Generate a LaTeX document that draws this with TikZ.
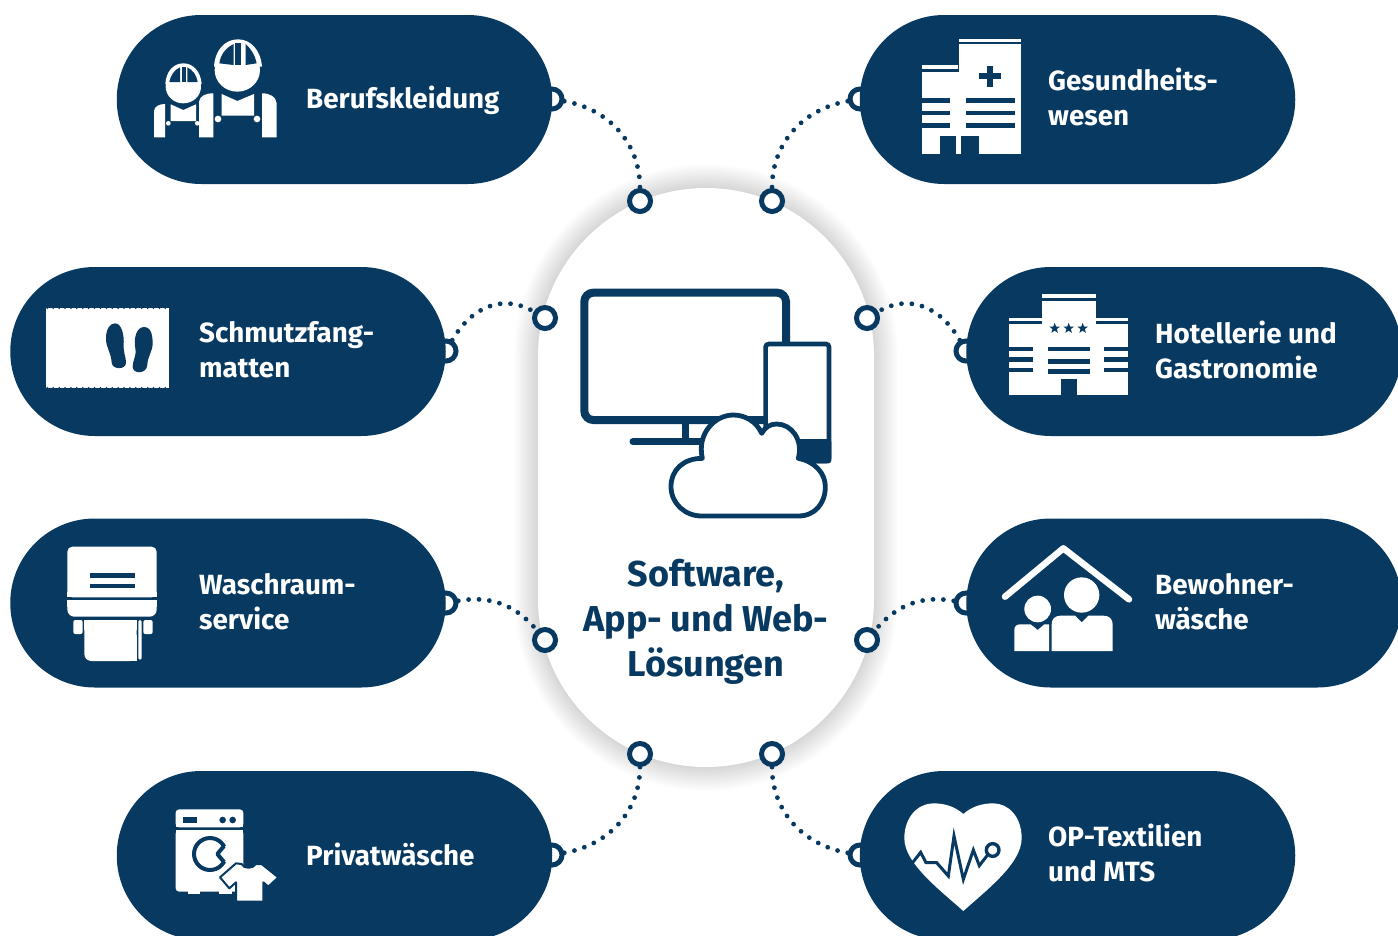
\documentclass[tikz,border=0pt]{standalone}
\usepackage{fontspec}
\setmainfont{Fira Sans}
\usepackage{xcolor}
\usetikzlibrary{shapes.geometric}
\definecolor{navy}{HTML}{083A61}

\begin{document}
\begin{tikzpicture}[
    x=1pt, y=-1pt,
    % --- Styles ---
    pill/.style={fill=navy, minimum width=435.5pt, minimum height=169pt, rounded corners=84.5pt, inner sep=0pt},
    hub/.style={fill=white, minimum width=336pt, minimum height=579pt, rounded corners=168pt, inner sep=0pt},
    pill label/.style={text=white, anchor=west, align=left, font=\bfseries\fontsize{27.8}{35}\selectfont, inner sep=0pt},
    hub label/.style={text=navy, align=center, font=\bfseries\fontsize{36}{45}\selectfont, inner sep=0pt},
    pill ring/.style={circle, draw=navy, fill=white, line width=5pt, minimum size=20pt, inner sep=0pt},
    hub ring/.style={circle, draw=navy, fill=white, line width=5pt, minimum size=21pt, inner sep=0pt},
    dot link/.style={draw=navy, line width=4.8pt, line cap=round, dash pattern=on 0pt off 10.4pt},
    zoomed/.style={x=0.33333pt, y=-0.33333pt},
    ink/.style={fill=white, draw=none},
    cut/.style={fill=navy, draw=none}
]
    \useasboundingbox (0,0) rectangle (1398,935);
    \clip (0,0) rectangle (1398,935);

    %% --- CENTRE ---
    % Soft edge of the centre shape
    \foreach \g in {1,...,20}
        \node[hub, fill=none, draw=black, opacity=0.006, line width=2.4*\g pt] (hubshade\g) at (706,477.5) {};
    \node[hub] (hub) at (706,477.5) {};

    %% --- RINGS ---
    \node[pill ring] (ringA) at (552,99) {};
    \node[pill ring] (ringB) at (860,99) {};
    \node[pill ring] (ringC) at (446,351) {};
    \node[pill ring] (ringD) at (966,351) {};
    \node[pill ring] (ringE) at (446,603) {};
    \node[pill ring] (ringF) at (966,603) {};
    \node[pill ring] (ringG) at (552,855) {};
    \node[pill ring] (ringH) at (860,855) {};

    \node[hub ring] (hubA) at (640,201) {};
    \node[hub ring] (hubB) at (772,201) {};
    \node[hub ring] (hubC) at (545,318) {};
    \node[hub ring] (hubD) at (867,318) {};
    \node[hub ring] (hubE) at (545,640) {};
    \node[hub ring] (hubF) at (867,640) {};
    \node[hub ring] (hubG) at (640,754) {};
    \node[hub ring] (hubH) at (772,754) {};

    %% --- DOTTED LINKS ---
    \draw[dot link] (ringA) to[out=-10, in=90, looseness=1] (hubA);
    \draw[dot link] (ringB) to[out=190, in=90, looseness=1] (hubB);
    \draw[dot link] (ringC) to[out=60, in=150, looseness=1.1] (hubC);
    \draw[dot link] (ringD) to[out=120, in=30, looseness=1.1] (hubD);
    \draw[dot link] (ringE) to[out=10, in=130, looseness=1] (hubE);
    \draw[dot link] (ringF) to[out=170, in=50, looseness=1] (hubF);
    \draw[dot link] (ringG) to[out=10, in=-90, looseness=1] (hubG);
    \draw[dot link] (ringH) to[out=170, in=-90, looseness=1] (hubH);

    %% --- PILLS ---
    \node[pill] (pillA) at (334.5,99.5) {};
    \node[pill] (pillB) at (1077.5,99.5) {};
    \node[pill] (pillC) at (228,351.5) {};
    \node[pill] (pillD) at (1184,351.5) {};
    \node[pill] (pillE) at (228,603) {};
    \node[pill] (pillF) at (1184,603) {};
    \node[pill] (pillG) at (334.5,855.5) {};
    \node[pill] (pillH) at (1077.5,855.5) {};

    %% --- TEXT ---
    \node[pill label] (textA) at (306,100.5) {Berufskleidung};
    \node[pill label] (textB) at (1048,96.5) {Gesundheits-\\wesen};
    \node[pill label] (textC) at (199,349.5) {Schmutzfang-\\matten};
    \node[pill label] (textD) at (1155,349.5) {Hotellerie und\\Gastronomie};
    \node[pill label] (textE) at (199,601.5) {Waschraum-\\service};
    \node[pill label] (textF) at (1155,601.5) {Bewohner-\\wäsche};
    \node[pill label] (textG) at (306,854) {Privatwäsche};
    \node[pill label] (textH) at (1048,852.5) {OP-Textilien\\und MTS};
    \node[hub label] (textHub) at (706,622) {Software,\\App- und Web-\\Lösungen};

    %% --- ICON: screen, tablet, cloud ---
    \begin{scope}[shift={(560,270)}, zoomed]
        \draw[navy, line width=8pt, rounded corners=9pt] (73,68) rectangle (678,450);
        \fill[navy] (367,455) rectangle (388,510);
        \draw[navy, line width=7pt, line cap=round] (219,515) -- (430,515);
        \draw[navy, fill=white, line width=4.6pt, rounded corners=3pt] (617,222) rectangle (807,573);
        \fill[navy, rounded corners=3pt] (700,507) -- (814,507) -- (814,580) -- (700,580) -- cycle;
        \draw[navy, fill=white, line width=4.8pt, line join=round]
            (427,565) .. controls (370,565) and (333,600) .. (333,650)
            .. controls (333,700) and (375,738) .. (425,738) -- (715,738)
            .. controls (765,738) and (796,700) .. (796,650)
            .. controls (796,610) and (765,575) .. (715,565)
            .. controls (730,510) and (695,462) .. (650,462)
            .. controls (630,462) and (615,472) .. (605,490)
            .. controls (590,455) and (555,435) .. (520,435)
            .. controls (465,435) and (410,490) .. (427,565) -- cycle;
    \end{scope}

    %% --- ICON: two workers ---
    \begin{scope}[shift={(130,20)}, zoomed]
        % Big one
        \fill[ink] (322,150) ellipse [x radius=68, y radius=65];
        \fill[ink] (252,140) .. controls (255,90) and (285,58) .. (324,58)
            .. controls (362,58) and (392,90) .. (396,140) -- cycle;
        \fill[cut] (268,130) .. controls (272,105) and (285,85) .. (311,72) -- (311,135) -- cycle;
        \fill[cut] (316,70) rectangle (332,135);
        \fill[cut] (347,72) .. controls (362,85) and (375,105) .. (380,130) -- (347,135) -- cycle;
        \fill[ink] (207,352) -- (207,245) .. controls (210,228) and (225,220) .. (250,220) -- (250,352) -- cycle;
        \fill[ink] (396,352) -- (396,220) .. controls (420,220) and (438,230) .. (440,250) -- (440,352) -- cycle;
        \fill[ink] (275,222) -- (322,243) -- (372,222) -- (372,287) -- (275,287) -- cycle;
        \fill[ink] (264,297) circle [radius=10];
        \fill[ink] (381,297) circle [radius=10];
        % Small one
        \fill[ink] (160,200) ellipse [x radius=53, y radius=50];
        \fill[ink] (106,192) .. controls (108,155) and (130,130) .. (160,130)
            .. controls (190,130) and (212,155) .. (215,192) -- cycle;
        \fill[cut] (118,186) .. controls (122,165) and (133,150) .. (150,142) -- (150,186) -- cycle;
        \fill[cut] (155,140) rectangle (167,186);
        \fill[cut] (172,142) .. controls (188,150) and (200,165) .. (203,186) -- (172,186) -- cycle;
        \fill[ink] (72,352) -- (72,272) .. controls (74,258) and (90,252) .. (105,252) -- (105,352) -- cycle;
        \fill[ink] (122,253) -- (160,270) -- (198,253) -- (198,303) -- (122,303) -- cycle;
        \fill[ink] (115,310) circle [radius=7];
        \fill[ink] (202,310) circle [radius=7];
    \end{scope}

    %% --- ICON: hospital ---
    \begin{scope}[shift={(900,25)}, zoomed]
        \fill[ink] (177,42) rectangle (363,52);
        \fill[ink] (66,120) rectangle (175,132);
        \fill[ink] (177,58) rectangle (363,388);
        \fill[ink] (66,140) rectangle (177,388);
        \fill[cut] (262,122) rectangle (280,186);
        \fill[cut] (238,145) rectangle (303,163);
        \foreach \y in {220,258,295} {
            \fill[cut] (66,\y) rectangle (150,\y+13);
            \fill[cut] (198,\y) rectangle (344,\y+13);
        }
        \fill[cut] (120,332) rectangle (168,388);
        \fill[cut] (183,332) rectangle (236,388);
    \end{scope}

    %% --- ICON: hotel ---
    \begin{scope}[shift={(990,280)}, zoomed]
        \fill[ink] (155,43) rectangle (317,53);
        \fill[ink] (58,114) rectangle (157,124);
        \fill[ink] (317,114) rectangle (414,124);
        \fill[ink] (155,62) rectangle (317,345);
        \fill[ink] (58,133) rectangle (414,345);
        \foreach \y in {200,232,264} {
            \fill[cut] (58,\y) rectangle (130,\y+13);
            \fill[cut] (342,\y) rectangle (414,\y+13);
        }
        \foreach \y in {200,238,268}
            \fill[cut] (173,\y) rectangle (300,\y+13);
        \fill[cut] (213,298) rectangle (260,345);
        \foreach \x/\n in {194/A,236/B,278/C}
            \node[star, star points=5, star point ratio=2.4, fill=navy, inner sep=0pt, minimum size=11pt] (hotelstar\n) at (\x,145) {};
    \end{scope}

    %% --- ICON: house and residents ---
    \begin{scope}[shift={(990,535)}, zoomed]
        \draw[white, line width=6.5pt, line cap=round, line join=round] (45,185) -- (220,40) -- (417,193);
        \fill[ink] (275,180) circle [radius=53];
        \fill[ink] (143,222) circle [radius=40];
        \fill[ink] (185,348) -- (185,268) .. controls (185,252) and (195,242) .. (212,242)
            -- (255,242) -- (275,262) -- (295,242) -- (340,242)
            .. controls (358,242) and (368,252) .. (368,268) -- (368,348) -- cycle;
        \fill[ink] (73,348) -- (73,285) .. controls (73,274) and (80,268) .. (90,268)
            -- (122,268) -- (143,285) -- (163,268) -- (177,268) -- (177,348) -- cycle;
    \end{scope}

    %% --- ICON: floor mat ---
    \begin{scope}[shift={(30,295)}, zoomed]
        \fill[ink] (48,40) rectangle (418,278);
        \draw[navy, line width=1.6pt, line cap=round, dash pattern=on 0pt off 5.9pt] (52,40) -- (418,40);
        \draw[navy, line width=1.6pt, line cap=round, dash pattern=on 0pt off 5.9pt] (52,278) -- (418,278);
        % Soles
        \fill[cut] (255,85) .. controls (238,85) and (228,105) .. (228,130)
            .. controls (228,160) and (243,170) .. (245,203)
            .. controls (247,225) and (288,225) .. (288,203)
            .. controls (288,185) and (280,175) .. (281,150)
            .. controls (283,120) and (275,85) .. (255,85) -- cycle;
        \fill[cut] (342,96) .. controls (365,96) and (368,125) .. (368,145)
            .. controls (368,170) and (352,185) .. (352,210)
            .. controls (350,238) and (308,238) .. (308,215)
            .. controls (308,195) and (320,185) .. (316,160)
            .. controls (310,130) and (320,96) .. (342,96) -- cycle;
    \end{scope}

    %% --- ICON: towel dispenser ---
    \begin{scope}[shift={(50,535)}, zoomed]
        \fill[ink, rounded corners=5pt] (52,35) -- (320,35) -- (320,187) -- (52,187) -- cycle;
        \fill[ink] (52,187) rectangle (320,170);
        \fill[cut] (120,115) rectangle (254,128);
        \fill[cut] (120,148) rectangle (254,160);
        \fill[ink, rounded corners=7pt] (52,195) -- (320,195) -- (320,245) -- (52,245) -- cycle;
        \fill[ink] (52,195) rectangle (320,215);
        \fill[ink, rounded corners=2pt] (70,255) -- (98,255) -- (98,297) -- (70,297) -- cycle;
        \fill[ink, rounded corners=2pt] (280,255) -- (308,255) -- (308,297) -- (280,297) -- cycle;
        \fill[ink, rounded corners=7pt] (103,255) -- (260,255) -- (260,378) -- (103,378) -- cycle;
        \fill[ink] (103,255) rectangle (260,285);
        \fill[ink] (180,300) rectangle (260,378);
        \fill[ink, rounded corners=1.5pt] (265,255) -- (275,255) -- (275,374) -- (265,374) -- cycle;
    \end{scope}

    %% --- ICON: washing machine and shirt ---
    \begin{scope}[shift={(160,795)}, zoomed]
        \fill[ink, rounded corners=3.5pt] (47,43) -- (250,43) -- (250,97) -- (47,97) -- cycle;
        \fill[ink] (47,70) rectangle (250,97);
        \fill[ink, rounded corners=3.5pt] (47,105) -- (250,105) -- (250,290) -- (47,290) -- cycle;
        \fill[ink] (47,105) rectangle (250,130);
        \fill[ink] (83,285) rectangle (120,298);
        \fill[ink] (177,285) rectangle (215,298);
        \fill[cut] (68,65) rectangle (110,83);
        \fill[cut] (188,75) circle [radius=10];
        \fill[cut] (218,75) circle [radius=10];
        % Drum
        \draw[navy, line width=4pt] (150,177) circle [radius=48];
        \fill[ink] (172,177) -- (204,146) -- (204,208) -- cycle;
        \draw[navy, line width=4pt, line join=round] (192,153) -- (172,177) -- (192,201);
        % Shirt
        \draw[navy, fill=white, line width=2pt, line join=round]
            (180,247) -- (228,205) -- (245,207) .. controls (250,222) and (280,222) .. (287,207)
            -- (305,207) -- (355,247) -- (325,275) -- (310,262) -- (310,320)
            -- (228,320) -- (228,262) -- (208,280) -- cycle;
    \end{scope}

    %% --- ICON: heart ---
    \begin{scope}[shift={(890,790)}, zoomed]
        \fill[ink] (220,363) .. controls (150,300) and (43,220) .. (43,145)
            .. controls (43,80) and (85,40) .. (130,40)
            .. controls (165,40) and (195,50) .. (220,72)
            .. controls (245,50) and (275,40) .. (310,40)
            .. controls (355,40) and (395,80) .. (395,145)
            .. controls (395,220) and (290,300) .. (220,363) -- cycle;
        \draw[navy, line width=3pt, line join=miter] (62,225) -- (92,187) -- (108,218) -- (140,218)
            -- (175,258) -- (192,138) -- (220,268) -- (250,180) -- (268,227) -- (295,192);
        \draw[navy, fill=white, line width=3.4pt] (308,180) circle [radius=19];
    \end{scope}
\end{tikzpicture}
\end{document}
